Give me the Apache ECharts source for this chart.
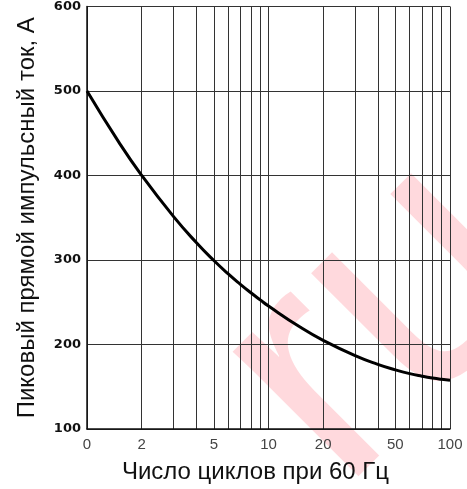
<!DOCTYPE html>
<html>
<head>
<meta charset="utf-8">
<script src="https://cdn.jsdelivr.net/npm/echarts@6/dist/echarts.min.js"></script>
<style>
html,body{margin:0;padding:0;background:#fff;}
#chart{width:467px;height:489px;}
</style>
</head>
<body>
<div id="chart"></div>
<script>
// Data
const cycles = [1, 1.5, 2, 3, 4, 5, 6, 7, 8, 9, 10, 15, 20, 30, 40, 50, 60, 70, 80, 90, 100];
const peakCurrent = [500, 439.2, 400.2, 351.3, 320.7, 299.4, 283.5, 271.2, 261.2, 252.8, 245.5, 220.3, 204.9, 186.8, 176.5, 170, 165.5, 162.5, 160.3, 158.8, 157.8];
const xGridValues = [1, 2, 3, 4, 5, 6, 7, 8, 9, 10, 20, 30, 40, 50, 60, 70, 80, 90, 100];
const xTickValues = [1, 2, 5, 10, 20, 50, 100];
const xTickLabels = ['0', '2', '5', '10', '20', '50', '100'];
const yTickLabels = ['100', '200', '300', '400', '500', '600'];
const xAxisName = 'Число циклов при 60 Гц';
const yAxisName = 'Пиковый прямой импульсный ток, А';
const watermark = 'ru';

const chart = echarts.init(document.getElementById('chart'));
const gridColor = '#333333';
chart.setOption({
  animation: false,
  backgroundColor: '#ffffff',
  graphic: [{
    type: 'text',
    x: 382, y: 322,
    rotation: Math.PI / 4,
    z: -100,
    silent: true,
    style: {
      text: watermark,
      font: '335px "Liberation Sans", Arial, sans-serif',
      fill: 'rgba(255,0,30,0.15)',
      align: 'center',
      verticalAlign: 'middle'
    }
  }],
  grid: { left: 87, right: 17, top: 5, bottom: 60, containLabel: false },
  xAxis: {
    type: 'log',
    logBase: 10,
    min: 1,
    max: 100,
    name: xAxisName,
    nameLocation: 'middle',
    nameGap: 31,
    nameTextStyle: { fontFamily: '"Liberation Sans", Arial, sans-serif', fontSize: 24, color: '#111', padding: [0, 26, 0, 0] },
    axisLine: { show: true, lineStyle: { color: '#111', width: 1.5 } },
    axisTick: { show: false, customValues: xGridValues },
    axisLabel: {
      customValues: xTickValues,
      formatter: function (v) { const i = xTickValues.indexOf(v); return i >= 0 ? xTickLabels[i] : ''; },
      fontFamily: '"Liberation Sans Narrow", "Liberation Sans", Arial, sans-serif',
      fontSize: 15,
      color: '#444',
      margin: 8
    },
    splitLine: { show: true, lineStyle: { color: gridColor, width: 1 } },
    minorSplitLine: { show: false }
  },
  yAxis: {
    type: 'value',
    min: 100,
    max: 600,
    interval: 100,
    name: yAxisName,
    nameLocation: 'middle',
    nameGap: 48,
    nameTextStyle: { fontFamily: '"Liberation Sans", Arial, sans-serif', fontSize: 24, color: '#111' },
    axisLine: { show: true, lineStyle: { color: '#111', width: 1.5 } },
    axisTick: { show: false },
    axisLabel: {
      formatter: function (v) { return yTickLabels[yTickLabels.indexOf(String(v))] || ''; },
      fontFamily: '"DejaVu Sans", sans-serif',
      fontWeight: 'bold',
      fontSize: 13,
      color: '#111',
      margin: 6
    },
    splitLine: { show: true, lineStyle: { color: gridColor, width: 1 } }
  },
  series: [{
    type: 'line',
    data: cycles.map((c, i) => [c, peakCurrent[i]]),
    smooth: 0.5,
    showSymbol: false,
    lineStyle: { color: '#000', width: 3 },
    z: 5
  }]
});
</script>
</body>
</html>
